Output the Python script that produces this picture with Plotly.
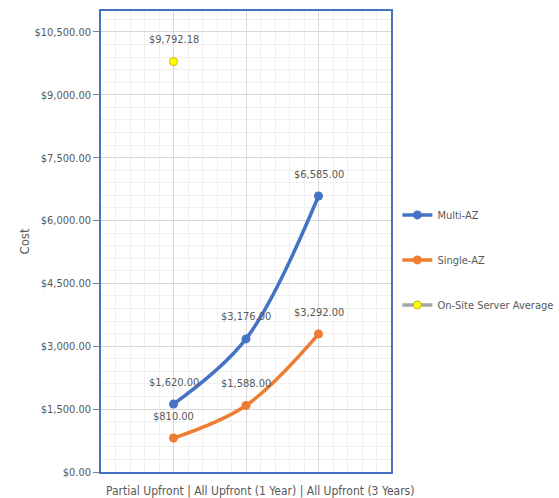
import plotly.graph_objects as go

categories = ["Partial Upfront", "All Upfront (1 Year)", "All Upfront (3 Years)"]
multi_az = [1620.00, 3176.00, 6585.00]
single_az = [810.00, 1588.00, 3292.00]
onsite_avg = [9792.18]

FONT = "DejaVu Sans Condensed, sans-serif"
GRAY = "#595959"
xs = list(range(len(categories)))

fig = go.Figure()
fig.add_trace(go.Scatter(
    x=xs, y=multi_az, name="Multi-AZ", mode="lines+markers",
    line=dict(color="#4472C4", width=3.5, shape="spline"),
    marker=dict(color="#4472C4", size=9), legendgroup="a"))
fig.add_trace(go.Scatter(
    x=xs, y=single_az, name="Single-AZ", mode="lines+markers",
    line=dict(color="#ED7D31", width=3.5, shape="spline"),
    marker=dict(color="#ED7D31", size=9), legendgroup="b"))
fig.add_trace(go.Scatter(
    x=xs[:len(onsite_avg)], y=onsite_avg, name="On-Site Server Average", mode="lines+markers",
    line=dict(color="#A5A5A5", width=3.5),
    marker=dict(color="#FFFF00", size=8, line=dict(color="#C9B400", width=1)), legendgroup="c"))

annotations = []
for series in (multi_az, single_az, onsite_avg):
    for x, v in zip(xs, series):
        annotations.append(dict(x=x, y=v, xref="x", yref="y", text=f"${v:,.2f}",
                                showarrow=False, yshift=22,
                                font=dict(family=FONT, size=11, color=GRAY)))
annotations.append(dict(x=0.548, y=-0.022, xref="paper", yref="paper", yanchor="top",
                        text=" | ".join(categories), showarrow=False,
                        font=dict(family=FONT, size=12, color=GRAY)))

fig.update_layout(
    width=559, height=498,
    margin=dict(l=101, r=168, t=11, b=26, autoexpand=False),
    paper_bgcolor="white", plot_bgcolor="white",
    font=dict(family=FONT, size=11, color=GRAY),
    annotations=annotations,
    legend=dict(x=1.022, y=0.46, yanchor="middle", xanchor="left",
                font=dict(family=FONT, size=11, color=GRAY),
                tracegroupgap=26, itemwidth=30),
    xaxis=dict(range=[-1, 3], dtick=1, tick0=0, showticklabels=False, ticks="",
               showgrid=True, gridcolor="#D9D9D9", gridwidth=1,
               minor=dict(dtick=0.2, showgrid=True, gridcolor="#F0F0F0", gridwidth=1),
               showline=True, mirror=True, linecolor="#4472C4", linewidth=1.5,
               zeroline=False),
    yaxis=dict(range=[0, 11000], dtick=1500, tick0=0, tickformat="$,.2f",
               ticks="outside", ticklen=6, tickcolor="#7F7F7F",
               tickfont=dict(family=FONT, size=11, color=GRAY),
               showgrid=True, gridcolor="#D9D9D9", gridwidth=1,
               minor=dict(dtick=300, showgrid=True, gridcolor="#F0F0F0", gridwidth=1),
               showline=True, mirror=True, linecolor="#4472C4", linewidth=1.5,
               zeroline=False,
               title=dict(text="Cost", standoff=2, font=dict(family=FONT, size=13, color=GRAY))),
)

fig.write_html("out.html")
